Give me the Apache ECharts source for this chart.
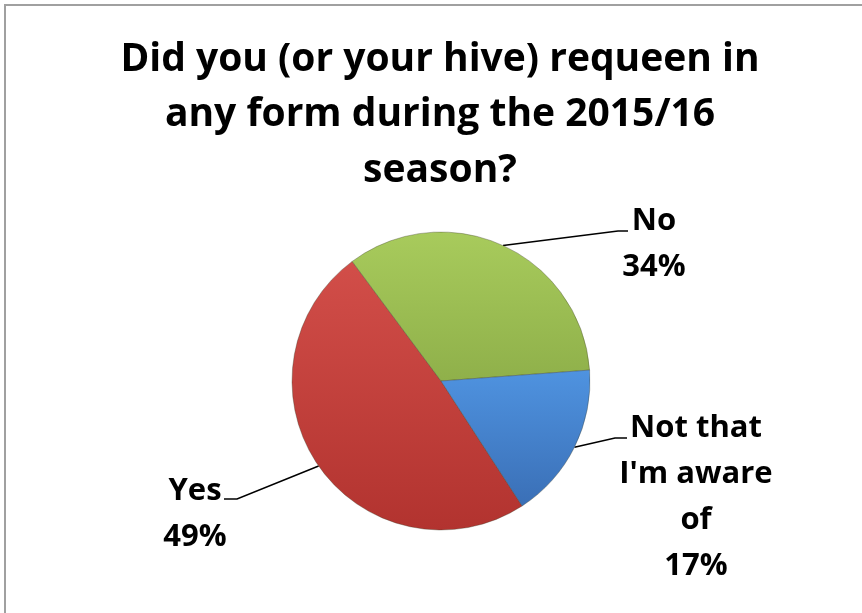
<!DOCTYPE html>
<html>
<head>
<meta charset="utf-8">
<script src="https://cdn.jsdelivr.net/npm/echarts@6/dist/echarts.min.js"></script>
<style>
html,body{margin:0;padding:0;background:#fff;}
#chart{width:862px;height:613px;}
</style>
</head>
<body>
<div id="chart"></div>
<script>
// ---- data ----
var categories = ['Yes', 'No', "Not that\nI'm aware\nof"];
var percentValues = [49, 34, 17];
var titleLines = ['Did you (or your hive) requeen in', 'any form during the 2015/16', 'season?'];

// ---- styles ----
var sliceColors = [
  ['#d24e49', '#b2332f'],
  ['#a8cb5c', '#8fb04a'],
  ['#4f93e0', '#3a6fb6']
];
var FONT = '"Open Sans", "Noto Sans", sans-serif';

// label placement (center x, top y) and leader-line end points
var labelPlace = [
  {x: 195, y: 468, lineY: 499, endX: 224, bendX: 237},
  {x: 654, y: 198, lineY: 231, endX: 628, bendX: 618},
  {x: 696, y: 405, lineY: 438, endX: 627, bendX: 615}
];

var seriesData = categories.map(function (c, i) {
  return {
    name: c,
    value: percentValues[i],
    itemStyle: {
      color: new echarts.graphic.LinearGradient(0, 0, 0, 1, [
        {offset: 0, color: sliceColors[i][0]},
        {offset: 1, color: sliceColors[i][1]}
      ])
    }
  };
});

var chart = echarts.init(document.getElementById('chart'), null, {renderer: 'canvas'});
chart.setOption({
  backgroundColor: '#ffffff',
  animation: false,
  graphic: [
    {
      type: 'rect', z: -1,
      shape: {x: 5, y: 5, width: 1000, height: 1000},
      style: {fill: 'none', stroke: '#a0a0a0', lineWidth: 2}
    },
    {
      type: 'text',
      x: 440, y: 32,
      style: {
        text: titleLines.join('\n'),
        textAlign: 'center',
        textVerticalAlign: 'top',
        font: 'bold 39px ' + FONT,
        lineHeight: 55.5,
        fill: '#000'
      }
    }
  ],
  series: [{
    type: 'pie',
    center: [441, 381],
    radius: 149,
    startAngle: 303,
    clockwise: true,
    data: seriesData,
    itemStyle: {borderColor: 'rgba(60,60,40,0.35)', borderWidth: 1},
    label: {
      show: true,
      position: 'outside',
      formatter: function (p) { return p.name + '\n' + p.value + '%'; },
      fontFamily: FONT,
      fontWeight: 'bold',
      fontSize: 31,
      lineHeight: 46,
      color: '#000',
      align: 'center'
    },
    labelLine: {
      show: true,
      lineStyle: {color: '#000', width: 1.5}
    },
    labelLayout: function (params) {
      var lp = labelPlace[params.dataIndex];
      var start = params.labelLinePoints ? params.labelLinePoints[0] : [0, 0];
      return {
        x: lp.x,
        y: lp.y,
        align: 'center',
        verticalAlign: 'top',
        labelLinePoints: [start, [lp.bendX, lp.lineY], [lp.endX, lp.lineY]]
      };
    }
  }]
});
</script>
</body>
</html>
